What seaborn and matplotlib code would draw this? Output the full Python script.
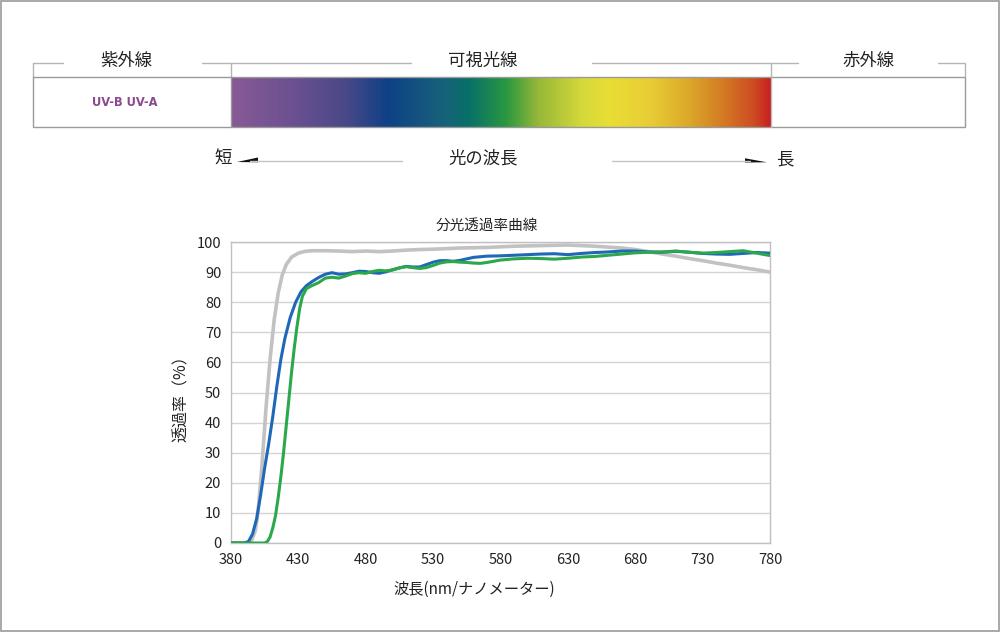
import numpy as np
import pandas as pd
import matplotlib
matplotlib.use("Agg")
import matplotlib.pyplot as plt
from matplotlib.colors import LinearSegmentedColormap
from matplotlib.patches import Rectangle, Polygon
import seaborn as sns

# ---------------- data ----------------
wl_gray = [380, 390, 395, 398, 400, 403, 406, 409, 412, 415, 418, 421, 425, 430, 435, 440,
           450, 460, 470, 480, 490, 500, 510, 520, 530, 540, 550, 560, 570, 580, 590, 600,
           610, 620, 630, 640, 650, 660, 670, 680, 690, 700, 710, 720, 730, 740, 750, 760, 770, 780]
t_gray = [0, 0, 0.5, 4, 10, 26, 45, 61, 74, 83, 89, 92.5, 95, 96.3, 96.9, 97.1,
          97.1, 97, 96.8, 97, 96.8, 97, 97.3, 97.5, 97.6, 97.8, 98, 98.1, 98.2, 98.4, 98.6, 98.7,
          98.8, 98.9, 99, 98.8, 98.6, 98.3, 98, 97.5, 96.8, 96, 95.3, 94.5, 93.8, 93, 92.3, 91.5, 90.8, 90]

wl_blue = [380, 390, 393, 396, 399, 402, 405, 408, 411, 414, 417, 420, 424, 428, 432, 436,
           440, 445, 450, 455, 460, 465, 470, 475, 480, 485, 490, 495, 500, 505, 510, 515,
           520, 525, 530, 535, 540, 545, 550, 555, 560, 570, 580, 590, 600, 610, 620, 630,
           640, 650, 660, 670, 680, 690, 700, 710, 720, 730, 740, 750, 760, 770, 780]
t_blue = [0, 0, 0.5, 3, 8, 16, 25, 33, 42, 52, 61, 68, 75, 80, 83.5, 85.5,
          86.8, 88.2, 89.3, 89.8, 89.3, 89.4, 89.8, 90.3, 90.2, 89.8, 89.6, 90.1, 90.8, 91.4, 91.9, 91.7,
          91.7, 92.5, 93.3, 93.8, 93.8, 93.6, 93.9, 94.4, 94.9, 95.3, 95.4, 95.6, 95.8, 96, 96.1, 95.8,
          96.2, 96.5, 96.7, 97, 97, 96.7, 96.6, 96.9, 96.6, 96.2, 96, 95.9, 96.2, 96.5, 96.3]

wl_green = [380, 400, 405, 407, 409, 411, 413, 415, 417, 419, 421, 423, 425, 427, 429, 431,
            433, 436, 440, 445, 450, 455, 460, 465, 470, 475, 480, 485, 490, 495, 500, 505,
            510, 515, 520, 525, 530, 535, 540, 545, 550, 555, 560, 565, 570, 575, 580, 590,
            600, 610, 620, 630, 640, 650, 660, 670, 680, 690, 700, 710, 720, 730, 740, 750,
            760, 770, 780]
t_green = [0, 0, 0, 0.5, 2, 5, 9, 15, 22, 30, 39, 48, 57, 65, 72, 78,
           82, 84.5, 85.5, 86.5, 88, 88.3, 88, 88.7, 89.5, 89.8, 89.6, 90.2, 90.6, 90.4, 90.7, 91.4,
           91.8, 91.5, 91.2, 91.5, 92.2, 93, 93.4, 93.5, 93.3, 93.2, 93.0, 92.9, 93.2, 93.6, 94, 94.4,
           94.6, 94.5, 94.3, 94.6, 95, 95.2, 95.6, 96, 96.4, 96.6, 96.7, 97, 96.6, 96.3, 96.5, 96.8,
           97.1, 96.3, 95.5]

x_ticks = [380, 430, 480, 530, 580, 630, 680, 730, 780]
y_ticks = [0, 10, 20, 30, 40, 50, 60, 70, 80, 90, 100]

title_text = "分光透過率曲線"
xlabel_text = "波長(nm/ナノメーター)"
ylabel_text = "透過率（%）"
band_labels = ["紫外線", "可視光線", "赤外線"]
uv_label = "UV-B UV-A"
arrow_labels = ["短", "光の波長", "長"]

grad_colors = ["#875a96", "#6a5090", "#4a4888", "#0f4186", "#17607a", "#087068", "#2a9840",
               "#98b838", "#d4d83a", "#e8de35", "#e8cc35", "#dca82a", "#d47c24", "#cd4c22", "#c82020"]
grad_pos = [0.0, 0.12, 0.21, 0.29, 0.39, 0.44, 0.51, 0.57, 0.65, 0.70, 0.78, 0.85, 0.91, 0.97, 1.0]

# ---------------- style ----------------
sns.set_theme(style="white")
plt.rcParams['font.family'] = ['Noto Sans CJK JP', 'DejaVu Sans']

W, H = 1000, 632
fig = plt.figure(figsize=(10, 6.32), dpi=100)
fig.patch.set_facecolor("white")

# decoration layer in pixel coordinates
deco = fig.add_axes([0, 0, 1, 1])
deco.set_xlim(0, W)
deco.set_ylim(H, 0)
deco.axis("off")

# outer frame
deco.add_patch(Rectangle((0.5, 0.5), W - 1.5, H - 1.5, fill=False, ec="#9a9a9a", lw=1.2))

# gradient band
cmap = LinearSegmentedColormap.from_list("spec", list(zip(grad_pos, grad_colors)))
grad = np.linspace(0, 1, 512).reshape(1, -1)
deco.imshow(grad, cmap=cmap, aspect="auto", extent=(231, 771, 127, 77), zorder=2)
deco.add_patch(Rectangle((33, 77), 932, 50, fill=False, ec="#9a9a9a", lw=1.0, zorder=3))
deco.plot([231, 231], [77, 127], color="#9a9a9a", lw=1.0, zorder=3)
deco.plot([771, 771], [77, 127], color="#bbbbbb", lw=1.0, zorder=3)

# brackets
bc = "#b5b5b5"
deco.plot([33, 33, 63], [77, 63, 63], color=bc, lw=1.0)
deco.plot([202, 231], [63, 63], color=bc, lw=1.0)
deco.plot([231, 231, 411], [77, 63, 63], color=bc, lw=1.0)
deco.plot([592, 798], [63, 63], color=bc, lw=1.0)
deco.plot([771, 771], [63, 77], color=bc, lw=1.0)
deco.plot([938, 965, 965], [63, 63, 77], color=bc, lw=1.0)

lab_fs = 12.5
deco.text(126, 61, band_labels[0], ha="center", va="center", fontsize=lab_fs, color="#222222")
deco.text(483, 61, band_labels[1], ha="center", va="center", fontsize=lab_fs, color="#222222")
deco.text(869, 61, band_labels[2], ha="center", va="center", fontsize=lab_fs, color="#222222")
deco.text(125, 103, uv_label, ha="center", va="center", fontsize=9.2, fontweight="bold",
          fontstretch="condensed", color="#8a4a8c", family=["DejaVu Sans"])

# wavelength arrow row
deco.text(223, 159, arrow_labels[0], ha="center", va="center", fontsize=lab_fs, color="#222222")
deco.text(483, 158, arrow_labels[1], ha="center", va="center", fontsize=lab_fs, color="#222222")
deco.text(785, 159, arrow_labels[2], ha="center", va="center", fontsize=lab_fs, color="#222222")
deco.plot([250, 402], [161, 161], color="#c4c4c4", lw=1.0)
deco.plot([612, 750], [161, 161], color="#c4c4c4", lw=1.0)
deco.add_patch(Polygon([(237, 162), (258, 157.5), (258, 162.3)], closed=True, fc="#111111", ec="none"))
deco.add_patch(Polygon([(745, 158.3), (745, 162.5), (767, 162.3)], closed=True, fc="#111111", ec="none"))

# ---------------- chart ----------------
ax = fig.add_axes([231 / W, 1 - 543 / H, (770 - 231) / W, (543 - 242) / H])
df_g = pd.DataFrame({"wl": wl_gray, "t": t_gray})
df_b = pd.DataFrame({"wl": wl_blue, "t": t_blue})
df_n = pd.DataFrame({"wl": wl_green, "t": t_green})
sns.lineplot(data=df_g, x="wl", y="t", ax=ax, color="#c2c2c2", lw=2.6, estimator=None, sort=False, zorder=3)
sns.lineplot(data=df_b, x="wl", y="t", ax=ax, color="#1f68b8", lw=2.2, estimator=None, sort=False, zorder=4)
sns.lineplot(data=df_n, x="wl", y="t", ax=ax, color="#2aa84a", lw=2.2, estimator=None, sort=False, zorder=5)

ax.set_xlim(380, 780)
ax.set_ylim(0, 100)
ax.set_xticks(x_ticks)
ax.set_yticks(y_ticks)
ax.set_xticklabels([str(v) for v in x_ticks])
ax.set_yticklabels([str(v) for v in y_ticks])
ax.tick_params(axis="both", length=0, labelsize=10.5, colors="#222222", pad=7)
ax.yaxis.grid(True, color="#d4d4d4", lw=1.0)
ax.xaxis.grid(False)
for s in ax.spines.values():
    s.set_color("#c0c0c0")
    s.set_linewidth(1.0)
ax.set_xlabel(xlabel_text, fontsize=11, color="#222222", labelpad=8)
ax.xaxis.set_label_coords((474 - 231) / (770 - 231), -0.125)
ax.set_ylabel(ylabel_text, fontsize=11.5, color="#222222")
ax.yaxis.set_label_coords((190 - 231) / (770 - 231), (543 - 395) / (543 - 242))
ax.set_title(title_text, fontsize=10.5, color="#222222", x=(487 - 231) / (770 - 231), pad=9)
ax.set_facecolor("white")

fig.savefig("out.png", dpi=100, facecolor="white")
